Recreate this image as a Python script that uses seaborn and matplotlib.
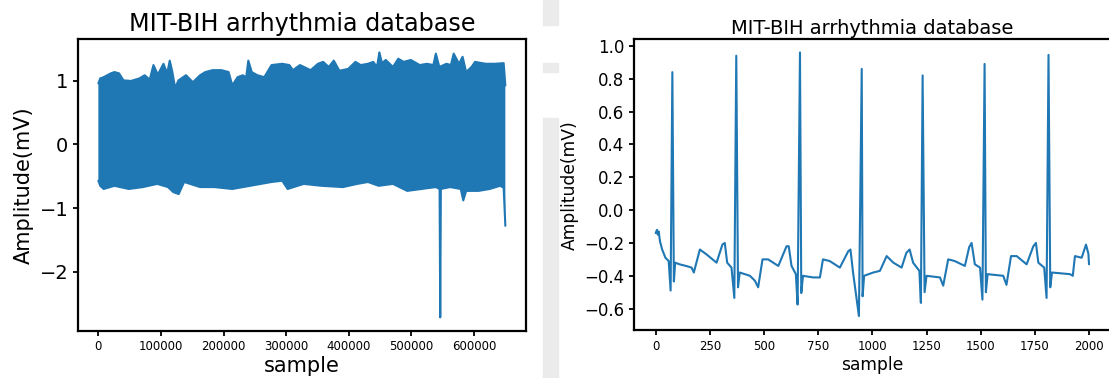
import numpy as np
import matplotlib
matplotlib.use("Agg")
import matplotlib.pyplot as plt
import seaborn as sns
from matplotlib.patches import Rectangle

# --- 왼쪽: 전체 레코드 (샘플 0 ~ 650000), 위/아래 포락선 ---
upper_x = [0, 3000, 8500, 20000, 25700, 33000, 40000, 52000, 65600, 74000, 82000, 88000, 95000,
           104000, 110000, 114000, 118000, 122600, 128000, 140000, 151000, 162500, 171000,
           182500, 196700, 208000, 213900, 222400, 231000, 236000, 239500, 245000, 254000,
           265000, 276600, 293700, 305000, 310800, 322000, 339000, 350700, 359000, 368000,
           376000, 385000, 399000, 410600, 419000, 430600, 439000, 445000, 448800, 453000,
           459000, 470500, 479000, 487600, 499000, 513300, 524700, 535000, 539000, 544600,
           556000, 563000, 567500, 576000, 581700, 587400, 596000, 601600, 618700, 633000,
           647300, 650000]
upper_y = [0.96, 1.04, 1.06, 1.12, 1.14, 1.12, 1.01, 1.00, 1.04, 1.09, 1.02, 1.25, 1.10,
           1.27, 1.12, 1.32, 1.15, 0.89, 1.01, 1.09, 0.98, 1.09, 1.14,
           1.17, 1.17, 1.14, 0.93, 1.06, 1.09, 1.05, 1.32, 1.14, 1.09,
           1.06, 1.25, 1.27, 1.25, 1.17, 1.25, 1.17, 1.27, 1.30, 1.22,
           1.32, 1.16, 1.19, 1.30, 1.25, 1.27, 1.30, 1.22, 1.45, 1.28,
           1.33, 1.22, 1.35, 1.30, 1.33, 1.25, 1.27, 1.25, 1.43, 1.22,
           1.27, 1.25, 1.43, 1.27, 1.38, 1.14, 1.22, 1.30, 1.27, 1.27,
           1.28, 0.93]

lower_x = [0, 3000, 8500, 25700, 48500, 71300, 94000, 111200, 119800, 128300, 137000,
           162500, 185300, 213900, 242400, 276600, 293700, 302300, 328000, 356400, 390700,
           413500, 430600, 447700, 470500, 493300, 516100, 539000, 545000, 546000, 547000,
           561700, 578800, 582800, 587400, 607400, 625000, 641600, 647300, 650000]
lower_y = [-0.57, -0.65, -0.70, -0.65, -0.70, -0.67, -0.62, -0.67, -0.75, -0.78, -0.59,
           -0.67, -0.67, -0.70, -0.65, -0.59, -0.57, -0.70, -0.62, -0.65, -0.67,
           -0.62, -0.59, -0.65, -0.62, -0.73, -0.70, -0.67, -0.70, -2.72, -0.70,
           -0.67, -0.70, -0.88, -0.73, -0.73, -0.70, -0.65, -0.68, -1.28]

# --- 오른쪽: 처음 2000 샘플 (주요 꼭짓점) ---
ecg_x = [0, 6, 10, 14, 20, 30, 45, 60, 69, 77, 84, 90, 110, 140, 166, 176, 204, 235, 281, 308,
         319, 330, 350, 363, 372, 380, 388, 435, 458, 473, 493, 519, 566, 604, 614, 627, 647,
         655, 666, 672, 680, 727, 758, 772, 803, 850, 889, 899, 911, 938, 951, 955, 962,
         1004, 1035, 1066, 1097, 1135, 1157, 1172, 1188, 1217, 1224, 1232, 1241, 1250,
         1312, 1327, 1350, 1380, 1427, 1447, 1458, 1473, 1497, 1508, 1518, 1524, 1532,
         1604, 1619, 1640, 1666, 1712, 1743, 1755, 1766, 1793, 1804, 1813, 1821, 1829,
         1912, 1925, 1935, 1966, 1986, 1997, 2000]
ecg_y = [-0.14, -0.12, -0.15, -0.13, -0.19, -0.24, -0.29, -0.31, -0.49, 0.84, -0.435, -0.32,
         -0.33, -0.34, -0.35, -0.38, -0.24, -0.27, -0.32, -0.21,
         -0.20, -0.32, -0.35, -0.535, 0.94, -0.47, -0.38, -0.40, -0.43, -0.47, -0.30, -0.30,
         -0.34, -0.22, -0.22, -0.34, -0.39,
         -0.575, 0.96, -0.505, -0.40, -0.41, -0.41, -0.30, -0.31, -0.35, -0.25, -0.24, -0.38,
         -0.645, 0.86, -0.525, -0.40,
         -0.38, -0.37, -0.28, -0.32, -0.35, -0.26, -0.24, -0.32, -0.37, -0.565, 0.82, -0.50,
         -0.40,
         -0.41, -0.46, -0.30, -0.31, -0.34, -0.225, -0.20, -0.33, -0.35, -0.545, 0.89, -0.50,
         -0.39,
         -0.40, -0.455, -0.28, -0.28, -0.33, -0.22, -0.20, -0.32, -0.35, -0.535, 0.945, -0.47,
         -0.38,
         -0.39, -0.40, -0.28, -0.29, -0.21, -0.265, -0.33]

TITLE = "MIT-BIH arrhythmia database"
COLOR = "#1f77b4"

sns.set_style("ticks", {"axes.edgecolor": "black", "xtick.color": "black",
                        "ytick.color": "black", "axes.labelcolor": "black",
                        "text.color": "black"})
plt.rcParams["font.family"] = ["DejaVu Sans"]
plt.rcParams["axes.linewidth"] = 1.6
plt.rcParams["xtick.major.width"] = 1.3
plt.rcParams["ytick.major.width"] = 1.3
plt.rcParams["xtick.major.size"] = 3.5
plt.rcParams["ytick.major.size"] = 3.5

W, H = 1109, 378
fig = plt.figure(figsize=(W / 100, H / 100), dpi=100)

# 가운데 회색 띠 (스크린샷 배경)
for y0, y1 in [(0, 25), (63, 72), (118, 378)]:
    fig.patches.append(Rectangle((543 / W, 1 - y1 / H), 15 / W, (y1 - y0) / H,
                                 transform=fig.transFigure, color="#ebebeb", zorder=0))

def px_axes(left, top, right, bottom):
    return fig.add_axes([left / W, 1 - bottom / H, (right - left) / W, (bottom - top) / H])

# 왼쪽 패널: 포락선으로 만든 다각형
ax1 = px_axes(78, 39, 525.7, 330.7)
ax1.fill(list(upper_x) + list(lower_x[::-1]), list(upper_y) + list(lower_y[::-1]),
         color=COLOR, lw=0)
sns.lineplot(x=upper_x, y=upper_y, ax=ax1, color=COLOR, lw=1.5, estimator=None, sort=False)
sns.lineplot(x=lower_x, y=lower_y, ax=ax1, color=COLOR, lw=1.5, estimator=None, sort=False)
ax1.set_xlim(-32500, 682500)
ax1.set_ylim(-2.93, 1.66)
ax1.set_yticks([-2, -1, 0, 1])
ax1.set_xticks(range(0, 600001, 100000))
ax1.tick_params(axis="y", labelsize=14)
ax1.tick_params(axis="x", labelsize=8.5)
ax1.set_title(TITLE, fontsize=17.2)
ax1.set_xlabel("sample", fontsize=15, labelpad=2)
ax1.set_ylabel("Amplitude(mV)", fontsize=15)
ax1.ticklabel_format(axis="x", style="plain")

# 오른쪽 패널 (오른쪽 끝은 그림 밖으로 잘림)
ax2 = px_axes(634, 39.3, 1110.7, 330)
sns.lineplot(x=ecg_x, y=ecg_y, ax=ax2, color=COLOR, lw=1.5, estimator=None, sort=False)
ax2.set_xlim(-100, 2100)
ax2.set_ylim(-0.73, 1.04)
ax2.set_yticks(np.round(np.arange(-0.6, 1.01, 0.2), 1))
ax2.set_xticks(range(0, 2001, 250))
ax2.tick_params(axis="y", labelsize=12)
ax2.tick_params(axis="x", labelsize=8.5)
ax2.set_title(TITLE, fontsize=14, pad=4)
ax2.set_xlabel("sample", fontsize=12.3, labelpad=2)
ax2.set_ylabel("Amplitude(mV)", fontsize=12.3)

fig.savefig("out.png", dpi=100)
